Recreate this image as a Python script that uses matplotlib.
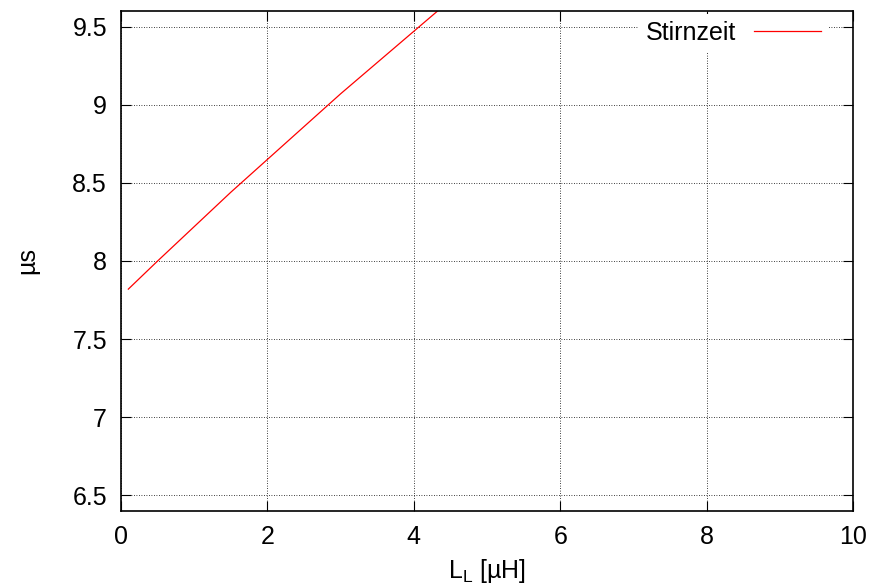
import matplotlib
matplotlib.use("Agg")
import matplotlib.pyplot as plt

plt.rcParams['font.family'] = ['Liberation Sans', 'DejaVu Sans']

L_uH = [0.1, 0.5, 1.0, 1.5, 2.0, 2.5, 3.0, 3.5, 4.0, 4.5, 5.0]
stirnzeit_us = [7.82, 8.00, 8.22, 8.44, 8.65, 8.86, 9.07, 9.27, 9.47, 9.67, 9.86]
xticks = [0, 2, 4, 6, 8, 10]
yticks = [6.5, 7, 7.5, 8, 8.5, 9, 9.5]
yticklabels = ['6.5', '7', '7.5', '8', '8.5', '9', '9.5']

fig = plt.figure(figsize=(8.71, 5.88), dpi=100)
ax = fig.add_axes([121/871, 1-511/588, (853-121)/871, (511-11)/588])

ax.plot(L_uH, stirnzeit_us, color='red', lw=0.9, label='Stirnzeit')
ax.set_xlim(0, 10)
ax.set_ylim(6.4, 9.6)
ax.set_xticks(xticks)
ax.set_xticklabels([str(t) for t in xticks])
ax.set_yticks(yticks)
ax.set_yticklabels(yticklabels)
ax.grid(True, color='black', linestyle=(0, (1, 2)), linewidth=0.6)
ax.tick_params(direction='in', top=True, right=True, length=7, width=0.8,
               labelsize=18, pad=10)
for s in ax.spines.values():
    s.set_linewidth(1.2)
ax.set_xlabel('L$_\\mathregular{L}$ [µH]', fontsize=18, labelpad=6)
ax.set_ylabel('µs', fontsize=18, labelpad=24)

leg = ax.legend(loc='upper right', bbox_to_anchor=(0.967, 0.995), frameon=True,
                fontsize=18, handlelength=2.7, borderaxespad=0.0, borderpad=0.3,
                handletextpad=0.7, markerfirst=False)
leg.get_frame().set_edgecolor('none')
leg.get_frame().set_facecolor('white')
leg.get_frame().set_alpha(1)

fig.savefig('out.png', dpi=100)
